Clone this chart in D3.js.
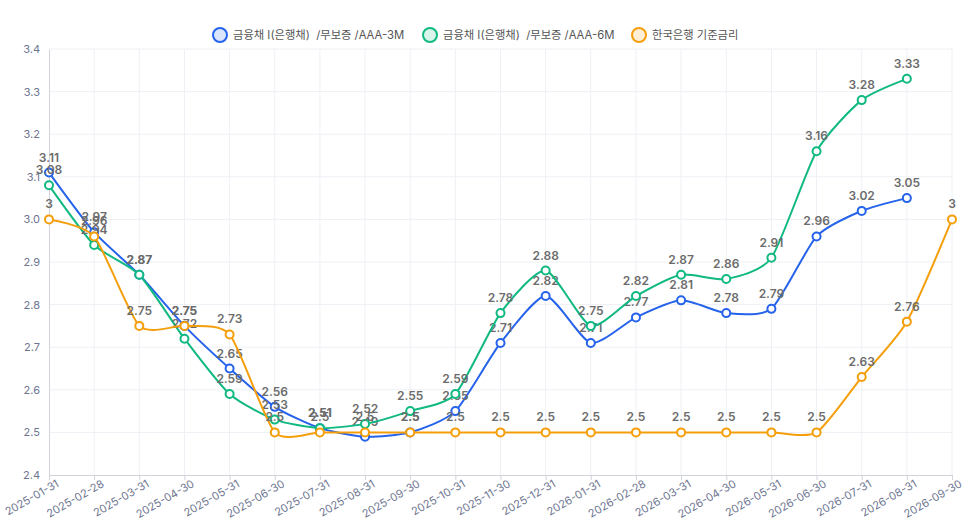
<!DOCTYPE html>
<html>
<head>
<meta charset="utf-8">
<script src="https://cdn.jsdelivr.net/npm/d3@7"></script>
<style>
  body { margin: 0; background: #fff; }
  svg { font-family: Inter, "Noto Sans CJK KR", sans-serif; }
</style>
</head>
<body>
<svg id="graph" width="974" height="529"></svg>
<script>
const dates = ["2025-01-31", "2025-02-28", "2025-03-31", "2025-04-30", "2025-05-31", "2025-06-30",
  "2025-07-31", "2025-08-31", "2025-09-30", "2025-10-31", "2025-11-30", "2025-12-31",
  "2026-01-31", "2026-02-28", "2026-03-31", "2026-04-30", "2026-05-31", "2026-06-30",
  "2026-07-31", "2026-08-31", "2026-09-30"];
const bond3M = [3.11, 2.97, 2.87, 2.75, 2.65, 2.56, 2.51, 2.49, 2.5, 2.55, 2.71, 2.82,
  2.71, 2.77, 2.81, 2.78, 2.79, 2.96, 3.02, 3.05, null];
const bond6M = [3.08, 2.94, 2.87, 2.72, 2.59, 2.53, 2.51, 2.52, 2.55, 2.59, 2.78, 2.88,
  2.75, 2.82, 2.87, 2.86, 2.91, 3.16, 3.28, 3.33, null];
const baseRate = [3, 2.96, 2.75, 2.75, 2.73, 2.5, 2.5, 2.5, 2.5, 2.5, 2.5, 2.5,
  2.5, 2.5, 2.5, 2.5, 2.5, 2.5, 2.63, 2.76, 3];
const seriesNames = ["금융채 I(은행채)  /무보증 /AAA-3M", "금융채 I(은행채)  /무보증 /AAA-6M", "한국은행 기준금리"];
const yTicks = [2.4, 2.5, 2.6, 2.7, 2.8, 2.9, 3.0, 3.1, 3.2, 3.3, 3.4];

const colors = ["#2563eb", "#10b981", "#f59e0b"];
const fills = ["#dbe6fc", "#d9f4ea", "#feefd6"];
const series = [bond3M, bond6M, baseRate].map((vals, i) => ({
  name: seriesNames[i], color: colors[i], fill: fills[i],
  points: vals.map((v, j) => ({ date: dates[j], value: v })).filter((d) => d.value != null)
}));

const margin = { top: 49, right: 22, bottom: 54, left: 49 };
const width = 974, height = 529;
const svg = d3.select("#graph");

const x = d3.scalePoint().domain(dates).range([margin.left, width - margin.right]);
const y = d3.scaleLinear().domain([2.4, 3.4]).range([height - margin.bottom, margin.top]);

// grid
svg.append("g")
  .selectAll("line.h")
  .data(yTicks.slice(1))
  .join("line")
  .attr("x1", margin.left).attr("x2", width - margin.right)
  .attr("y1", (d) => y(d)).attr("y2", (d) => y(d))
  .attr("stroke", "#eef0f5");
svg.append("g")
  .selectAll("line.v")
  .data(dates.slice(1))
  .join("line")
  .attr("x1", (d) => x(d)).attr("x2", (d) => x(d))
  .attr("y1", margin.top).attr("y2", height - margin.bottom)
  .attr("stroke", "#eef0f5");

// axes
svg.append("g")
  .attr("transform", `translate(0,${height - margin.bottom})`)
  .call(d3.axisBottom(x).tickSize(5).tickSizeOuter(0))
  .call((g) => g.select(".domain").attr("stroke", "#d0d3da"))
  .call((g) => g.selectAll(".tick line").attr("stroke", "#d0d3da"))
  .call((g) => g.selectAll(".tick text")
    .attr("fill", "#6e7591")
    .attr("font-size", 11)
    .attr("font-family", "Inter, sans-serif")
    .attr("text-anchor", "end")
    .attr("dx", "0.3em")
    .attr("dy", "0.6em")
    .attr("transform", "rotate(-30)"));

svg.append("g")
  .attr("transform", `translate(${margin.left},0)`)
  .call(d3.axisLeft(y).tickValues(yTicks).tickFormat(d3.format(".1f")).tickSize(0).tickPadding(9))
  .call((g) => g.select(".domain").attr("stroke", "#d0d3da"))
  .call((g) => g.selectAll(".tick text")
    .attr("fill", "#6e7591")
    .attr("font-size", 11)
    .attr("font-family", "Inter, sans-serif"));

// lines
const line = d3.line()
  .x((d) => x(d.date))
  .y((d) => y(d.value))
  .curve(d3.curveCardinal.tension(0.35));

const sg = svg.append("g").selectAll("g.series").data(series).join("g").attr("class", "series");
sg.append("path")
  .attr("fill", "none")
  .attr("stroke", (d) => d.color)
  .attr("stroke-width", 2)
  .attr("d", (d) => line(d.points));
sg.each(function (s) {
  d3.select(this).selectAll("circle")
    .data(s.points)
    .join("circle")
    .attr("cx", (d) => x(d.date))
    .attr("cy", (d) => y(d.value))
    .attr("r", 4)
    .attr("fill", "#fff")
    .attr("stroke", s.color)
    .attr("stroke-width", 2);
});
sg.each(function (s) {
  d3.select(this).selectAll("text")
    .data(s.points)
    .join("text")
    .attr("x", (d) => x(d.date))
    .attr("y", (d) => y(d.value) - 11)
    .attr("text-anchor", "middle")
    .attr("font-size", 12)
    .attr("font-weight", 600)
    .attr("fill", "#6b6b6b")
    .attr("font-family", "Inter, sans-serif")
    .text((d) => d.value);
});

// legend
const legendX = [220, 430, 639];
const lg = svg.append("g").selectAll("g").data(series).join("g")
  .attr("transform", (d, i) => `translate(${legendX[i]},35)`);
lg.append("circle")
  .attr("r", 7)
  .attr("fill", (d) => d.fill)
  .attr("stroke", (d) => d.color)
  .attr("stroke-width", 2);
lg.append("text")
  .attr("x", 13)
  .attr("dy", "0.35em")
  .attr("font-size", 11.3)
  .attr("fill", "#555")
  .style("white-space", "pre")
  .text((d) => d.name);
</script>
</body>
</html>
